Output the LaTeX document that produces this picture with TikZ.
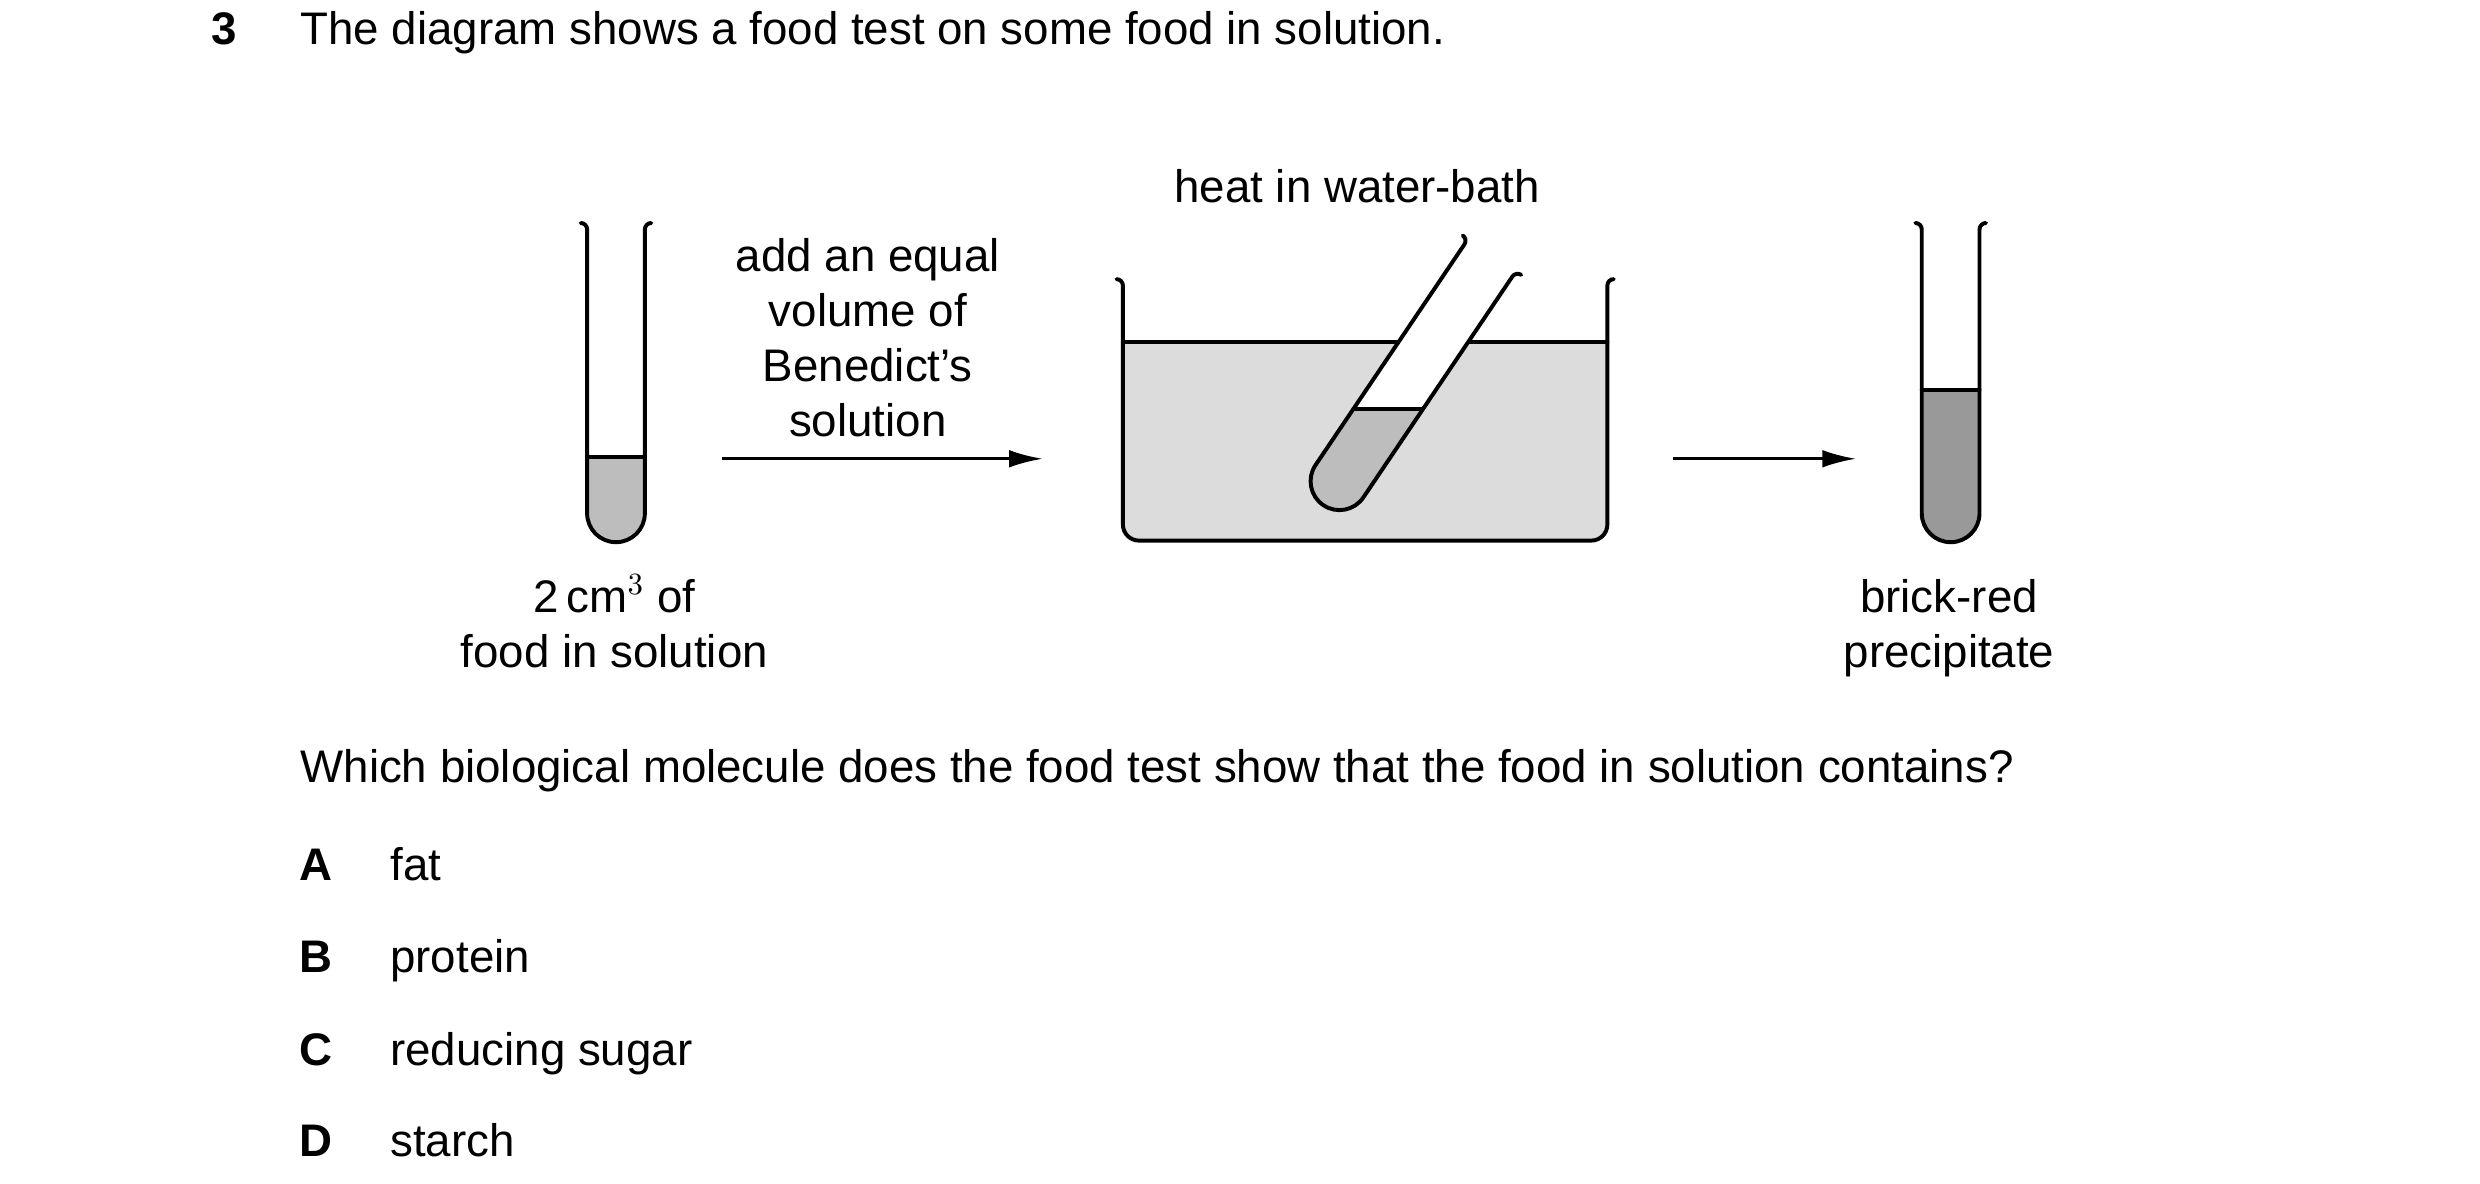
\documentclass[tikz,border=0pt]{standalone}
\usepackage{fontspec}
\setmainfont{Liberation Sans}
\usetikzlibrary{arrows.meta}
\tikzset{
  txt/.style={inner sep=0pt,font=\fontsize{16.2}{19.5}\selectfont},
  glass/.style={line width=1.4pt,line cap=round,line join=round},
  stage/.style={line width=1pt,-{Latex[length=0.42cm,width=0.22cm]}}
}
\definecolor{pale}{HTML}{BDBDBD}
\definecolor{bath}{HTML}{DCDCDC}
\definecolor{brick}{HTML}{999999}
% upright tube: centre x, liquid level, liquid colour
\newcommand\uptube[3]{
  \fill[#3] (#1-18,#2) -- (#1-18,419) arc(180:360:18) -- (#1+18,#2) -- cycle;
  \draw[glass] (#1-18,#2) -- (#1+18,#2);
  \draw[glass] (#1-22,600) arc(90:0:4) -- (#1-18,419) arc(180:360:18)
    -- (#1+18,596) arc(180:90:4);
}
\begin{document}
\begin{tikzpicture}[x=0.02cm,y=0.02cm]
\useasboundingbox (0,1) rectangle (1546,739);
% question text
\node[txt,anchor=base] (num) at (140,711) {\bfseries 3};
\node[txt,anchor=base west] (intro) at (187,711) {The diagram shows a food test on some food in solution.};
% tube with food
\uptube{384}{454}{pale}
\node[txt,align=center,anchor=base] (food) at (383,323) {2\,cm$^3$ of\\food in solution};
% first arrow
\coordinate (a1) at (450,453);
\coordinate (a2) at (650,453);
\draw[stage] (a1) -- (a2);
\node[txt,align=center,anchor=base] (add) at (541,467) {add an equal\\volume of\\Benedict’s\\solution};
% water-bath
\fill[bath] (700,526) -- (700,412) arc(180:270:10) -- (992,402) arc(270:360:10) -- (1002,526) -- cycle;
\draw[glass] (700,526) -- (1002,526);
\draw[glass] (696,565) arc(90:0:4) -- (700,412) arc(180:270:10) -- (992,402)
  arc(270:360:10) -- (1002,561) arc(180:90:4);
\node[txt,anchor=base] (heat) at (846,613) {heat in water-bath};
% tilted tube in bath
\begin{scope}[shift={(835,439)},rotate=-34]
  \begin{scope}
    \clip (-18,166) -- (-18,0) arc(180:360:18) -- (18,166) -- cycle;
    \fill[white] (-30,-30) rectangle (30,200);
    \begin{scope}[reset cm]
      \fill[pale] (0,0) rectangle (1546,484);
      \draw[glass] (700,484) -- (1000,484);
    \end{scope}
  \end{scope}
  \draw[glass] (-22,170) arc(90:0:4) -- (-18,0) arc(180:360:18) -- (18,166) arc(180:90:4);
\end{scope}
% second arrow
\coordinate (b1) at (1043,453);
\coordinate (b2) at (1157,453);
\draw[stage] (b1) -- (b2);
% tube with precipitate
\uptube{1216}{496}{brick}
\node[txt,align=center,anchor=base] (ppt) at (1215,323) {brick-red\\precipitate};
% question and options
\node[txt,anchor=base west] (ask) at (187,251) {Which biological molecule does the food test show that the food in solution contains?};
\foreach \l/\t/\y in {A/fat/190,B/protein/133,C/reducing sugar/75,D/starch/18}{
  \node[txt,anchor=base] (key\l) at (197,\y) {\bfseries\l};
  \node[txt,anchor=base west] (opt\l) at (243,\y) {\t};
}
\end{tikzpicture}
\end{document}
